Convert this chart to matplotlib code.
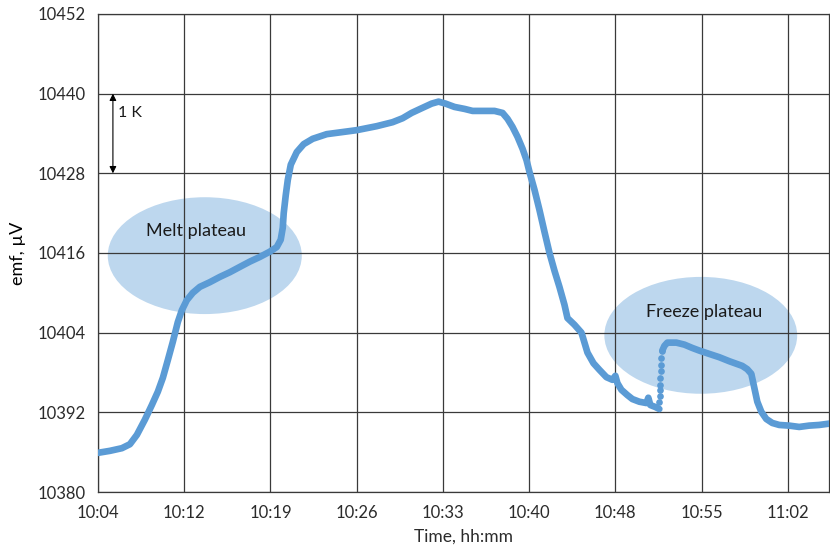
import matplotlib

matplotlib.use("Agg")
import matplotlib.pyplot as plt
from matplotlib.patches import Ellipse

plt.rcParams["font.family"] = ["Lato", "DejaVu Sans"]

# minutes after 10:04:48, emf in microvolts
minutes = [0.00, 1.00, 2.00, 2.67, 3.25, 3.92, 4.50, 5.00, 5.42, 5.84, 6.25, 6.67,
           7.01, 7.42, 7.92, 8.51, 9.34, 10.18, 11.01, 11.84, 12.68, 13.51, 14.35,
           14.93, 15.26, 15.43, 15.51, 15.68, 15.85, 16.10, 16.60, 17.18, 17.93,
           19.10, 20.35, 21.60, 23.27, 24.60, 25.44, 26.19, 27.02, 27.86, 28.44,
           29.02, 29.77, 30.61, 31.28, 32.28, 33.11, 33.78, 34.20, 34.61, 35.03,
           35.45, 35.78, 36.03, 36.45, 36.86, 37.28, 37.70, 38.12, 38.53, 38.95,
           39.20, 39.78, 40.37, 40.87, 41.37, 41.87, 42.45, 42.95, 43.20, 43.37,
           43.70, 44.20, 44.62, 45.20, 45.79, 45.95, 46.12, 46.54, 46.87]
emf = [10385.9, 10386.2, 10386.6, 10387.2, 10388.6, 10390.9, 10393.1, 10395.1,
       10397.2, 10399.9, 10402.6, 10405.6, 10407.4, 10408.9, 10410.0, 10410.9,
       10411.6, 10412.4, 10413.1, 10413.9, 10414.7, 10415.4, 10416.2, 10416.9,
       10418.0, 10419.8, 10422.0, 10424.7, 10427.0, 10429.3, 10431.2, 10432.4,
       10433.2, 10433.9, 10434.2, 10434.5, 10435.1, 10435.7, 10436.3, 10437.1,
       10437.8, 10438.5, 10438.8, 10438.5, 10438.0, 10437.7, 10437.4, 10437.4,
       10437.4, 10437.1, 10436.2, 10435.0, 10433.5, 10431.7, 10430.0, 10428.2,
       10425.5, 10422.5, 10419.2, 10416.0, 10413.3, 10410.9, 10408.2, 10406.2,
       10405.2, 10404.0, 10401.0, 10399.4, 10398.4, 10397.3, 10396.9, 10397.5,
       10396.4, 10395.4, 10394.6, 10394.0, 10393.6, 10393.4, 10394.2, 10393.1,
       10392.8, 10392.5]

# sparse readings during the recalescence jump
jump_minutes = [46.87, 46.90, 46.92, 46.94, 46.96, 46.98, 47.00, 47.04, 47.12]
jump_emf = [10393.6, 10394.5, 10395.4, 10396.1, 10397.2, 10398.2, 10399.1,
            10400.2, 10401.3]

freeze_minutes = [47.12, 47.29, 47.54, 47.87, 48.29, 48.96, 49.62, 50.21, 51.04,
                  51.88, 52.71, 53.79, 54.21, 54.55, 54.80, 55.05, 55.38, 55.80,
                  56.30, 56.88, 57.71, 58.55, 59.38, 60.22, 61.05]
freeze_emf = [10401.3, 10402.0, 10402.5, 10402.5, 10402.5, 10402.2, 10401.7,
              10401.3, 10400.8, 10400.3, 10399.7, 10399.0, 10398.5, 10397.8,
              10395.7, 10393.6, 10392.1, 10391.0, 10390.4, 10390.1, 10390.0,
              10389.8, 10390.0, 10390.1, 10390.3]

tick_minutes = [0, 7.2, 14.4, 21.6, 28.8, 36.0, 43.2, 50.4, 57.6]
tick_labels = ["10:04", "10:12", "10:19", "10:26", "10:33", "10:40", "10:48",
               "10:55", "11:02"]
y_ticks = [10380, 10392, 10404, 10416, 10428, 10440, 10452]

blue = "#5B9BD5"
text_color = "#2b2b2b"

fig = plt.figure(figsize=(8.3, 5.55), dpi=100)
ax = fig.add_axes([0.118, 0.1135, 0.881, 0.8613])

ax.add_patch(Ellipse((8.92, 10415.6), 16.2, 17.6, facecolor="#BDD7EE",
                     edgecolor="none", zorder=1))
ax.add_patch(Ellipse((50.33, 10403.6), 16.1, 17.6, facecolor="#BDD7EE",
                     edgecolor="none", zorder=1))
ax.text(8.15, 10419.3, "Melt plateau", ha="center", va="center", fontsize=13,
        color="#1a1a1a", zorder=4)
ax.text(50.6, 10407.1, "Freeze plateau", ha="center", va="center", fontsize=13,
        color="#1a1a1a", zorder=4)

ax.plot(minutes, emf, color=blue, lw=4.8, solid_capstyle="round",
        solid_joinstyle="round", zorder=3)
ax.plot(jump_minutes, jump_emf, "o", color=blue, ms=4.8, mec="none", zorder=3)
ax.plot(freeze_minutes, freeze_emf, color=blue, lw=4.8, solid_capstyle="round",
        solid_joinstyle="round", zorder=3)

# 1 K scale bar
ax.annotate("", xy=(1.25, 10440), xytext=(1.25, 10428),
            arrowprops=dict(arrowstyle="<|-|>", color="black", lw=0.8,
                            mutation_scale=10, shrinkA=0, shrinkB=0), zorder=4)
ax.text(1.65, 10437.1, "1 K", ha="left", va="center", fontsize=11.5,
        color="#1a1a1a")

ax.set_xlim(0, 61.05)
ax.set_ylim(10380, 10452)
ax.set_xticks(tick_minutes)
ax.set_xticklabels(tick_labels)
ax.set_yticks(y_ticks)
ax.tick_params(length=0, labelsize=12, colors=text_color, pad=9)
ax.grid(True, color="#3a3a3a", lw=0.9, zorder=2)
ax.set_axisbelow(False)
for side in ["left", "bottom", "top", "right"]:
    ax.spines[side].set_color("#3a3a3a")
    ax.spines[side].set_linewidth(0.9)

ax.set_xlabel("Time, hh:mm", fontsize=12.5, color=text_color, labelpad=6)
ax.set_ylabel("emf, µV", fontsize=13, color="black", labelpad=8)

fig.savefig("out.png", dpi=100)
